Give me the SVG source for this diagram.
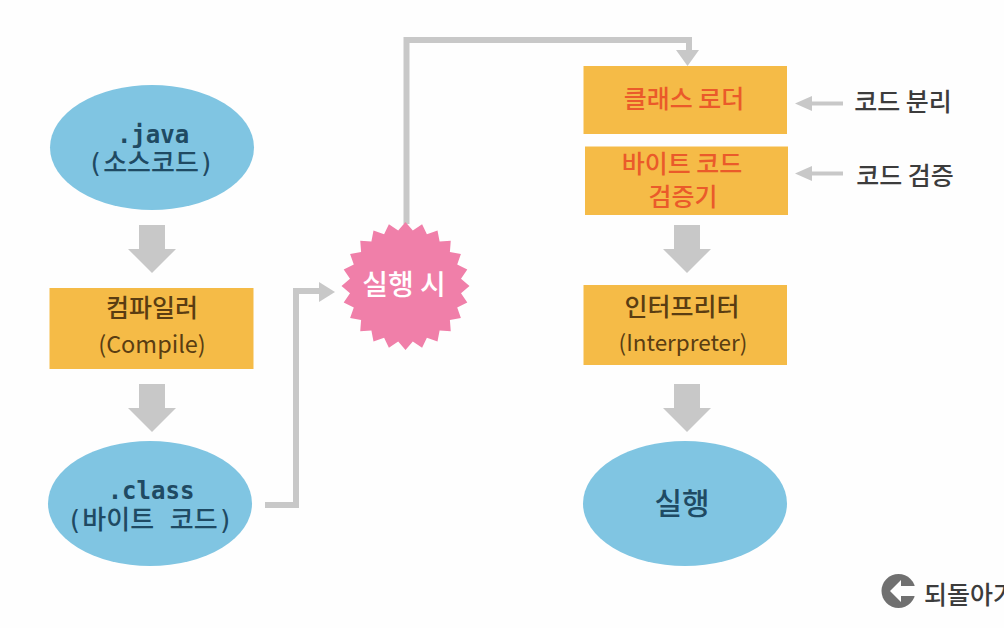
<svg xmlns="http://www.w3.org/2000/svg" width="1004" height="628" viewBox="0 0 1004 628">
<defs>
<style>
.box{fill:#f5bb47}
.oval{fill:#80c5e2}
.gray{fill:#c8c8c8}
.line{fill:none;stroke:#c8c8c8;stroke-width:6}
.thin{fill:none;stroke:#c8c8c8;stroke-width:4}
text{font-family:"Noto Sans CJK KR","Noto Sans",sans-serif;text-anchor:middle;font-weight:500}
.mono{font-family:"DejaVu Sans Mono","Noto Sans CJK KR",monospace;fill:#1f4a63;font-size:24px;font-weight:700}
.mono2{font-size:26px;font-weight:500}
.dark{fill:#5a3d12;font-size:25px}
.en{font-size:23.500px;font-weight:400}
.en2{font-size:22.500px;font-weight:400}
.red{fill:#ea5a2a;font-size:25px}
.lab{fill:#3c3c3c;font-size:25px}
</style>
<polygon id="bigArrow" class="gray" points="-13,0 13,0 13,24 24,24 0,48 -24,24 -13,24"/>
</defs>
<rect width="1004" height="628" fill="#fefefe"/>
<g id="connectors">
<use href="#bigArrow" x="152" y="225"/>
<use href="#bigArrow" x="152" y="384"/>
<use href="#bigArrow" x="687" y="225"/>
<use href="#bigArrow" x="687" y="384"/>
<path class="line" d="M265 505H296V291H320"/>
<polygon class="gray" points="319,282 335,292 319,302"/>
<path class="line" d="M406.500 224V40H689V52"/>
<polygon class="gray" points="676,50 699,50 687.500,66"/>
<path class="thin" d="M810 103.500H843"/>
<polygon class="gray" points="795,103.500 812,96 812,111"/>
<path class="thin" d="M810 173.500H843"/>
<polygon class="gray" points="795,173.500 812,166 812,181"/>
</g>
<g id="java"><ellipse class="oval" cx="152" cy="147.500" rx="102" ry="62.500"/><text class="mono" x="153" y="143">.java</text><text class="mono mono2" x="151" y="172">(소스코드)</text></g>
<g id="compiler"><rect class="box" x="49.500" y="288" width="204" height="81"/><text class="dark" x="152" y="317">컴파일러</text><text class="dark en" x="152" y="353">(Compile)</text></g>
<g id="class"><ellipse class="oval" cx="150" cy="503.500" rx="102" ry="62.500"/><text class="mono" x="151" y="499">.class</text><text class="mono mono2" x="150" y="529">(바이트 코드)</text></g>
<g id="runtime"><polygon fill="#f07fa9" points="405.500,222 412.800,230.500 422.100,224.200 426.900,234.300 437.500,230.600 439.600,241.600 450.750,240.750 449.900,251.900 460.900,254 457.200,264.600 467.300,269.400 461,278.700 469.500,286 461,293.300 467.300,302.600 457.200,307.400 460.900,318 449.900,320.100 450.750,331.250 439.600,330.400 437.500,341.400 426.900,337.700 422.100,347.800 412.800,341.500 405.500,350 398.200,341.500 388.900,347.800 384.100,337.700 373.500,341.400 371.400,330.400 360.250,331.250 361.100,320.100 350.100,318 353.800,307.400 343.700,302.600 350,293.300 341.500,286 350,278.700 343.700,269.400 353.800,264.600 350.100,254 361.100,251.900 360.250,240.750 371.400,241.600 373.500,230.600 384.100,234.300 388.900,224.200 398.200,230.500"/><text x="404" y="295" font-size="28" fill="#fff">실행 시</text></g>
<g id="loader"><rect class="box" x="583.500" y="66" width="203.500" height="68"/><text class="red" x="684" y="108">클래스 로더</text></g>
<g id="verifier"><rect class="box" x="585" y="146.500" width="203" height="68.500"/><text class="red" x="682" y="173">바이트 코드</text><text class="red" x="683" y="206">검증기</text></g>
<g id="interpreter"><rect class="box" x="583.500" y="285" width="203.500" height="80"/><text class="dark" x="682" y="316">인터프리터</text><text class="dark en2" x="683" y="351">(Interpreter)</text></g>
<g id="run"><ellipse class="oval" cx="685" cy="503.500" rx="102" ry="62.500"/><text x="682" y="514" font-size="30" fill="#1f4a63">실행</text></g>
<g id="split"><text class="lab" x="903" y="111">코드 분리</text></g>
<g id="verify"><text class="lab" x="905" y="185">코드 검증</text></g>
<g id="back"><circle cx="898.500" cy="591" r="17" fill="#707070"/><polygon fill="#fefefe" points="890,591 901,580 901,586 917,586 917,596 901,596 901,602"/><text class="lab" x="924" y="604" style="text-anchor:start">되돌아가</text></g>
</svg>
